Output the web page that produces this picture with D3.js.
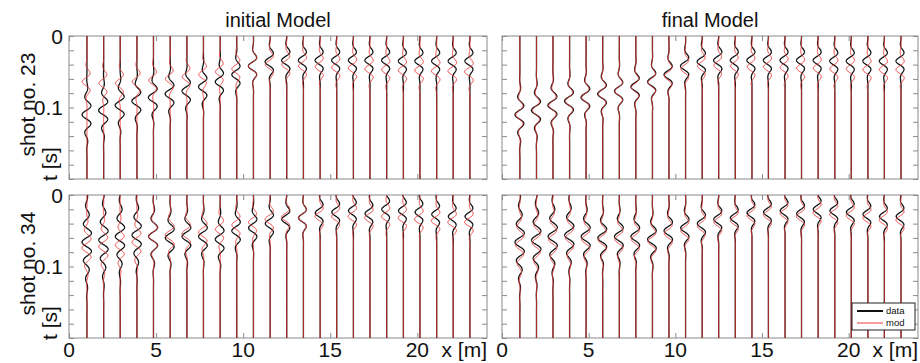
<!DOCTYPE html>
<html>
<head>
<meta charset="utf-8">
<script src="https://cdn.jsdelivr.net/npm/d3@7"></script>
<style>
  body { margin: 0; background: #fff; }
  svg { display: block; }
  text { font-family: "Liberation Sans", Arial, sans-serif; fill: #111; }
</style>
</head>
<body>
<svg id="chart" width="920" height="363"></svg>
<script>
// Receiver positions along the line (m)
const traceX = [1.03, 1.99, 2.94, 3.90, 4.85, 5.81, 6.77, 7.72, 8.68, 9.63, 10.59, 11.55,
                12.50, 13.46, 14.42, 15.37, 16.33, 17.28, 18.24, 19.20, 20.15, 21.11, 22.06, 23.02];

// Axis ticks
const xTickValues = [0, 5, 10, 15, 20];
const xTickLabels = ["0", "5", "10", "15", "20"];
const tTickValues = [0, 0.02, 0.04, 0.06, 0.08, 0.1, 0.12, 0.14, 0.16, 0.18, 0.2];
const tLabelValues = [0, 0.1];
const tLabelText = ["0", "0.1"];

// Shot 23 – observed data: arrival centre (s), amplitude (m of offset), duration (s)
const shot23DataT0 = [0.110, 0.104, 0.097, 0.091, 0.086, 0.081, 0.077, 0.071, 0.064, 0.054, 0.042, 0.036,
                      0.034, 0.034, 0.034, 0.034, 0.034, 0.034, 0.034, 0.035, 0.035, 0.035, 0.035, 0.035];
const shot23DataAmp = [0.28, 0.29, 0.29, 0.29, 0.29, 0.29, 0.28, 0.28, 0.28, 0.28, 0.29, 0.29,
                       0.29, 0.29, 0.29, 0.29, 0.29, 0.29, 0.29, 0.29, 0.29, 0.29, 0.29, 0.29];
const shot23DataDur = [0.020, 0.019, 0.018, 0.017, 0.016, 0.016, 0.015, 0.015, 0.014, 0.014, 0.013, 0.013,
                       0.013, 0.012, 0.012, 0.012, 0.012, 0.012, 0.012, 0.012, 0.012, 0.012, 0.012, 0.012];

// Shot 23 – initial model
const shot23InitT0 = [0.064, 0.066, 0.066, 0.064, 0.062, 0.060, 0.057, 0.054, 0.050, 0.046, 0.042, 0.040,
                      0.040, 0.042, 0.043, 0.044, 0.045, 0.046, 0.047, 0.048, 0.048, 0.049, 0.049, 0.050];
const shot23InitAmp = [0.27, 0.27, 0.27, 0.27, 0.27, 0.27, 0.27, 0.27, 0.27, 0.28, 0.28, 0.28,
                       0.28, 0.28, 0.28, 0.29, 0.29, 0.29, 0.29, 0.29, 0.30, 0.30, 0.30, 0.30];
const shot23InitDur = [0.014, 0.014, 0.014, 0.014, 0.013, 0.013, 0.013, 0.013, 0.013, 0.013, 0.013, 0.013,
                       0.013, 0.013, 0.013, 0.013, 0.013, 0.013, 0.013, 0.013, 0.013, 0.013, 0.013, 0.013];

// Shot 23 – final model
const shot23FinalT0 = [0.110, 0.104, 0.097, 0.091, 0.086, 0.081, 0.077, 0.072, 0.065, 0.056, 0.046, 0.042,
                       0.041, 0.042, 0.043, 0.043, 0.044, 0.045, 0.045, 0.046, 0.046, 0.047, 0.047, 0.047];
const shot23FinalAmp = [0.23, 0.23, 0.24, 0.24, 0.24, 0.25, 0.25, 0.25, 0.26, 0.26, 0.27, 0.27,
                        0.27, 0.27, 0.27, 0.28, 0.28, 0.28, 0.28, 0.28, 0.29, 0.29, 0.29, 0.29];
const shot23FinalDur = [0.017, 0.017, 0.016, 0.016, 0.015, 0.015, 0.015, 0.014, 0.014, 0.014, 0.013, 0.013,
                        0.013, 0.013, 0.013, 0.013, 0.013, 0.013, 0.013, 0.013, 0.013, 0.013, 0.013, 0.013];

// Shot 34 – observed data
const shot34DataT0 = [0.066, 0.063, 0.058, 0.056, 0.058, 0.060, 0.058, 0.058, 0.062, 0.050, 0.046, 0.040,
                      0.034, 0.032, 0.025, 0.024, 0.022, 0.026, 0.020, 0.022, 0.024, 0.027, 0.030, 0.030];
const shot34DataAmp = [0.28, 0.28, 0.28, 0.28, 0.28, 0.28, 0.28, 0.28, 0.28, 0.28, 0.28, 0.28,
                       0.28, 0.28, 0.28, 0.28, 0.28, 0.28, 0.28, 0.28, 0.28, 0.28, 0.28, 0.28];
const shot34DataDur = [0.032, 0.030, 0.028, 0.026, 0.022, 0.020, 0.019, 0.018, 0.018, 0.016, 0.015, 0.014,
                       0.013, 0.012, 0.012, 0.012, 0.012, 0.012, 0.012, 0.012, 0.012, 0.012, 0.012, 0.012];

// Shot 34 – initial model
const shot34InitT0 = [0.074, 0.072, 0.070, 0.066, 0.058, 0.056, 0.054, 0.052, 0.048, 0.042, 0.038, 0.034,
                      0.031, 0.032, 0.030, 0.030, 0.030, 0.032, 0.030, 0.032, 0.034, 0.036, 0.038, 0.038];
const shot34InitAmp = [0.28, 0.28, 0.28, 0.28, 0.28, 0.28, 0.28, 0.28, 0.28, 0.28, 0.28, 0.29,
                       0.29, 0.29, 0.29, 0.29, 0.30, 0.30, 0.30, 0.30, 0.31, 0.31, 0.31, 0.31];
const shot34InitDur = [0.022, 0.022, 0.020, 0.020, 0.018, 0.018, 0.016, 0.016, 0.015, 0.014, 0.013, 0.013,
                       0.012, 0.012, 0.012, 0.012, 0.012, 0.012, 0.012, 0.012, 0.012, 0.012, 0.012, 0.012];

// Shot 34 – final model
const shot34FinalT0 = [0.070, 0.067, 0.062, 0.060, 0.062, 0.063, 0.062, 0.062, 0.065, 0.054, 0.050, 0.044,
                       0.038, 0.036, 0.029, 0.028, 0.026, 0.030, 0.025, 0.027, 0.029, 0.032, 0.035, 0.035];
const shot34FinalAmp = [0.25, 0.25, 0.25, 0.25, 0.26, 0.26, 0.26, 0.26, 0.26, 0.27, 0.27, 0.27,
                        0.27, 0.28, 0.28, 0.28, 0.28, 0.29, 0.29, 0.29, 0.29, 0.29, 0.29, 0.29];
const shot34FinalDur = [0.028, 0.026, 0.025, 0.023, 0.020, 0.019, 0.018, 0.017, 0.017, 0.015, 0.014, 0.013,
                        0.013, 0.012, 0.012, 0.012, 0.012, 0.012, 0.012, 0.012, 0.012, 0.012, 0.012, 0.012];

// Dominant period of the recorded wavelet (s)
const wavePeriod = 0.026;
const sampleStep = 0.0005;

// Panel layout
const svg = d3.select("#chart");
const cols = [{x0: 69, x1: 487, title: "initial Model"}, {x0: 502, x1: 918, title: "final Model"}];
const rows = [{y0: 36, y1: 179, shot: "shot no. 23"}, {y0: 195, y1: 338, shot: "shot no. 34"}];

const panels = [
  {r: 0, c: 0, data: [shot23DataT0, shot23DataAmp, shot23DataDur], mod: [shot23InitT0, shot23InitAmp, shot23InitDur]},
  {r: 0, c: 1, data: [shot23DataT0, shot23DataAmp, shot23DataDur], mod: [shot23FinalT0, shot23FinalAmp, shot23FinalDur]},
  {r: 1, c: 0, data: [shot34DataT0, shot34DataAmp, shot34DataDur], mod: [shot34InitT0, shot34InitAmp, shot34InitDur]},
  {r: 1, c: 1, data: [shot34DataT0, shot34DataAmp, shot34DataDur], mod: [shot34FinalT0, shot34FinalAmp, shot34FinalDur]}
];

const times = d3.range(0, 0.2 + sampleStep / 2, sampleStep);

function wiggle(t, t0, a, s) {
  const u = t - t0;
  return -a * Math.exp(-0.5 * (u / s) * (u / s)) * Math.cos(2 * Math.PI * u / wavePeriod);
}

const grey = "#8a8a8a";
const modRed = "#ee3a3a";

panels.forEach((p, k) => {
  const col = cols[p.c], row = rows[p.r];
  const xs = d3.scaleLinear().domain([0, 24]).range([col.x0, col.x1]);
  const ys = d3.scaleLinear().domain([0, 0.2]).range([row.y0, row.y1]);
  const g = svg.append("g");

  const clipId = "clip" + k;
  svg.append("clipPath").attr("id", clipId).append("rect")
    .attr("x", col.x0).attr("y", row.y0).attr("width", col.x1 - col.x0).attr("height", row.y1 - row.y0);

  // frame
  g.append("rect").attr("x", col.x0).attr("y", row.y0)
    .attr("width", col.x1 - col.x0).attr("height", row.y1 - row.y0)
    .attr("fill", "none").attr("stroke", grey).attr("stroke-width", 1);

  // inward ticks on all four sides
  const tickLen = 5;
  const axL = d3.axisRight(ys).tickValues(tTickValues).tickSize(tickLen).tickFormat("");
  const axR = d3.axisLeft(ys).tickValues(tTickValues).tickSize(tickLen).tickFormat("");
  const axT = d3.axisBottom(xs).tickValues(xTickValues).tickSize(tickLen).tickFormat("");
  const axB = d3.axisTop(xs).tickValues(xTickValues).tickSize(tickLen).tickFormat("");
  [[axL, `translate(${col.x0},0)`], [axR, `translate(${col.x1},0)`],
   [axT, `translate(0,${row.y0})`], [axB, `translate(0,${row.y1})`]].forEach(([ax, tr]) => {
    const a = g.append("g").attr("transform", tr).call(ax);
    a.select(".domain").remove();
    a.selectAll(".tick line").attr("stroke", grey);
  });

  // traces: observed (black) under modelled (red)
  const line = d3.line().curve(d3.curveLinear);
  const tg = g.append("g").attr("clip-path", `url(#${clipId})`);
  const drawSet = (params, colour, width) => {
    traceX.forEach((x, i) => {
      const pts = times.map(t => [xs(x + wiggle(t, params[0][i], params[1][i], params[2][i])), ys(t)]);
      tg.append("path").attr("d", line(pts)).attr("fill", "none")
        .attr("stroke", colour).attr("stroke-width", width).attr("stroke-linejoin", "round");
    });
  };
  drawSet(p.data, "#151515", 1.3);
  drawSet(p.mod, modRed, 1.0);

  // time labels
  if (p.c === 0) {
    tLabelValues.forEach((v, i) => {
      svg.append("text").attr("x", col.x0 - 6).attr("y", ys(v) + 2)
        .attr("text-anchor", "end").attr("dominant-baseline", "middle")
        .attr("font-size", 21).text(tLabelText[i]);
    });
    const cy = (row.y0 + row.y1) / 2;
    svg.append("text").attr("transform", `translate(35,${cy - 3}) rotate(-90)`)
      .attr("text-anchor", "middle").attr("font-size", 21).text(row.shot);
    svg.append("text").attr("transform", `translate(57,${row.y1 - 15}) rotate(-90)`)
      .attr("text-anchor", "middle").attr("font-size", 21).text("t [s]");
  }

  // distance labels under the lower row
  if (p.r === 1) {
    xTickValues.forEach((v, i) => {
      svg.append("text").attr("x", xs(v)).attr("y", 357)
        .attr("text-anchor", "middle").attr("font-size", 21).text(xTickLabels[i]);
    });
    svg.append("text").attr("x", col.x1).attr("y", 357)
      .attr("text-anchor", "end").attr("font-size", 21).text("x [m]");
  }

  // column titles
  if (p.r === 0) {
    svg.append("text").attr("x", (col.x0 + col.x1) / 2).attr("y", 27)
      .attr("text-anchor", "middle").attr("font-size", 20).text(col.title);
  }
});

// legend
const lg = svg.append("g").attr("transform", "translate(852,303)");
lg.append("rect").attr("width", 63).attr("height", 27).attr("fill", "#fff")
  .attr("stroke", "#222").attr("stroke-width", 1);
lg.append("line").attr("x1", 5).attr("x2", 31).attr("y1", 8).attr("y2", 8)
  .attr("stroke", "#111").attr("stroke-width", 2);
lg.append("line").attr("x1", 5).attr("x2", 31).attr("y1", 20).attr("y2", 20)
  .attr("stroke", modRed).attr("stroke-width", 1);
lg.append("text").attr("x", 34).attr("y", 8).attr("dominant-baseline", "middle")
  .attr("font-size", 9.5).text("data");
lg.append("text").attr("x", 34).attr("y", 20).attr("dominant-baseline", "middle")
  .attr("font-size", 9.5).text("mod");
</script>
</body>
</html>
